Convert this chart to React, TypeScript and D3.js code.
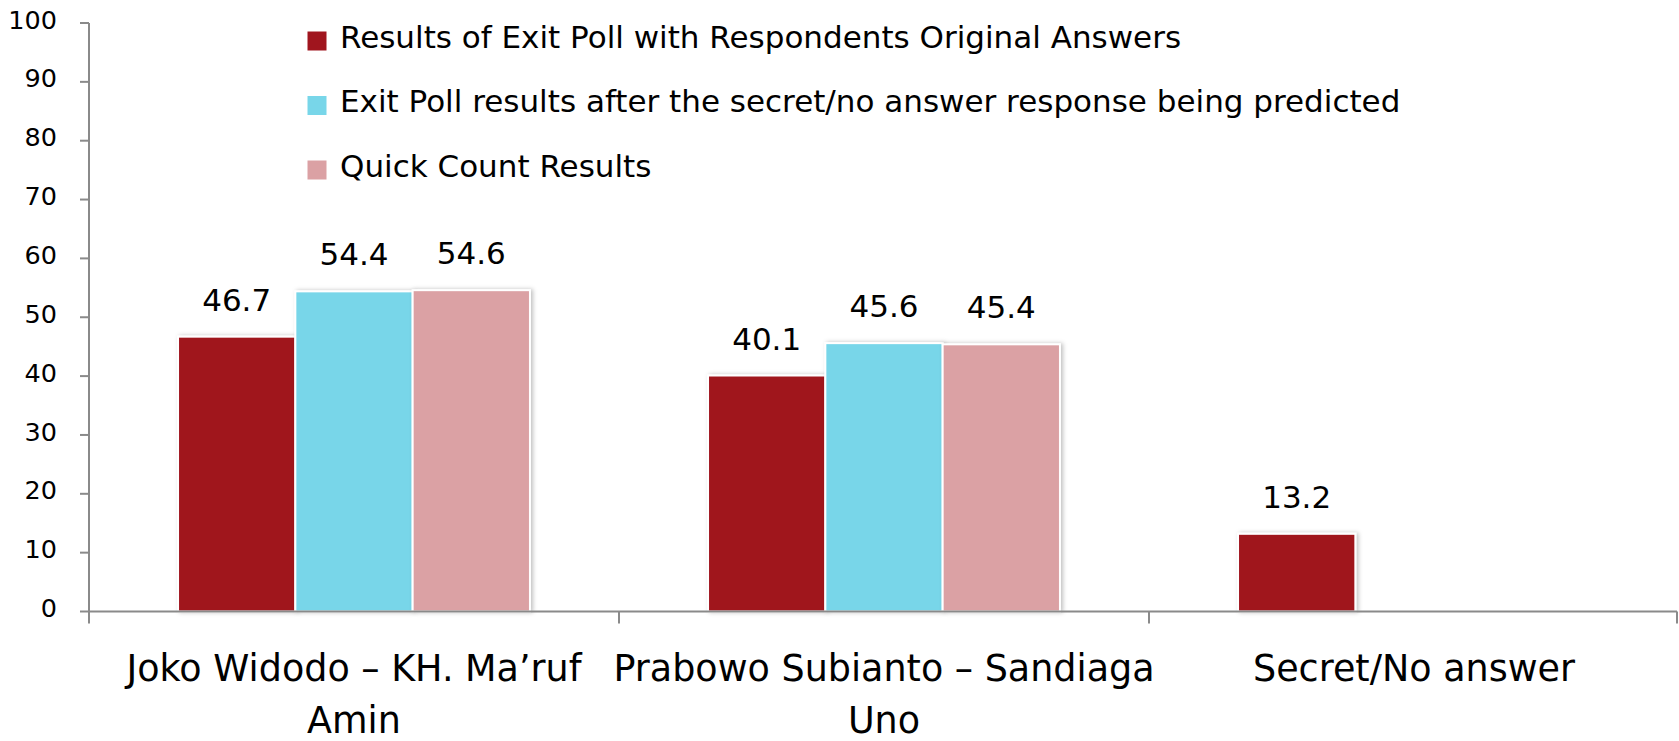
import * as d3 from "d3";

const categories = ["Joko Widodo – KH. Ma’ruf Amin", "Prabowo Subianto – Sandiaga Uno", "Secret/No answer"];
// tick labels as they wrap in the picture
const categoryLines = [
  ["Joko Widodo – KH. Ma’ruf", "Amin"],
  ["Prabowo Subianto – Sandiaga", "Uno"],
  ["Secret/No answer"],
];
const seriesNames = [
  "Results of Exit Poll with Respondents Original Answers",
  "Exit Poll results after the secret/no answer response being predicted",
  "Quick Count Results",
];
const exitPollOriginal = [46.7, 40.1, 13.2];
const exitPollPredicted = [54.4, 45.6, null];
const quickCount = [54.6, 45.4, null];
const yTicks = [0, 10, 20, 30, 40, 50, 60, 70, 80, 90, 100];
const colors = ["#A0151E", "#78D6E9", "#DBA1A4"];

const W = 1679;
const H = 741;
const FONT = "'DejaVu Sans', Verdana, sans-serif";

export default function App() {
  const series = [exitPollOriginal, exitPollPredicted, quickCount];

  const x0 = d3.scaleBand<string>().domain(categories).range([89, 1679]).padding(0);
  const bw = x0.bandwidth();
  const x1 = d3
    .scaleBand<string>()
    .domain(seriesNames)
    .range([bw * 0.168, bw * 0.832])
    .padding(0);
  const y = d3.scaleLinear().domain([0, 100]).range([611.5, 23]);

  const axisColor = "#8a8a8a";

  return (
    <svg
      width={W}
      height={H}
      style={{ position: "absolute", left: 0, top: 0, background: "#fff" }}
    >
      <defs>
        <filter id="shadow" x="-10%" y="-10%" width="130%" height="120%">
          <feDropShadow dx="2" dy="0" stdDeviation="2" floodColor="#000" floodOpacity="0.25" />
        </filter>
      </defs>

      {/* bars */}
      {categories.map((c, ci) => (
        <g key={c} transform={`translate(${x0(c)},0)`}>
          {seriesNames.map((s, si) => {
            const v = series[si][ci];
            if (v == null) return null;
            return (
              <rect
                key={s}
                x={x1(s)}
                y={y(v)}
                width={x1.bandwidth()}
                height={y(0) - y(v)}
                fill={colors[si]}
                stroke="#fff"
                strokeWidth={2}
                filter="url(#shadow)"
              />
            );
          })}
          {seriesNames.map((s, si) => {
            const v = series[si][ci];
            if (v == null) return null;
            return (
              <text
                key={s + "-l"}
                x={(x1(s) as number) + x1.bandwidth() / 2}
                y={y(v) - 26}
                textAnchor="middle"
                fontFamily={FONT}
                fontSize={31}
                fill="#000"
              >
                {v.toFixed(1)}
              </text>
            );
          })}
        </g>
      ))}

      {/* y axis */}
      <line x1={89} x2={89} y1={y(100)} y2={y(0)} stroke={axisColor} strokeWidth={2} />
      {yTicks.map((t) => (
        <g key={t}>
          <line x1={80} x2={89} y1={y(t)} y2={y(t)} stroke={axisColor} strokeWidth={2} />
          <text
            x={57}
            y={y(t)}
            dy="0.22em"
            textAnchor="end"
            fontFamily={FONT}
            fontSize={25.5}
            fill="#000"
          >
            {t}
          </text>
        </g>
      ))}

      {/* x axis */}
      <line x1={89} x2={1677} y1={y(0)} y2={y(0)} stroke={axisColor} strokeWidth={2} />
      {[...categories.map((c) => x0(c) as number), Math.min(1677, (x0(categories[2]) as number) + bw)].map(
        (tx, i) => (
          <line key={i} x1={tx} x2={tx} y1={y(0)} y2={y(0) + 12} stroke={axisColor} strokeWidth={2} />
        )
      )}
      {categories.map((c, ci) => (
        <text
          key={c}
          x={(x0(c) as number) + bw / 2}
          y={681}
          textAnchor="middle"
          fontFamily={FONT}
          fontSize={36.5}
          fill="#000"
        >
          {categoryLines[ci].map((line, li) => (
            <tspan key={li} x={(x0(c) as number) + bw / 2} dy={li === 0 ? 0 : 52}>
              {line}
            </tspan>
          ))}
        </text>
      ))}

      {/* legend */}
      {seriesNames.map((s, si) => (
        <g key={s} transform={`translate(307,${31 + si * 64.5})`}>
          <rect width={20} height={20} fill={colors[si]} stroke="#fff" strokeWidth={1} />
          <text x={33} y={16.5} fontFamily={FONT} fontSize={31} fill="#000">
            {s}
          </text>
        </g>
      ))}
    </svg>
  );
}
